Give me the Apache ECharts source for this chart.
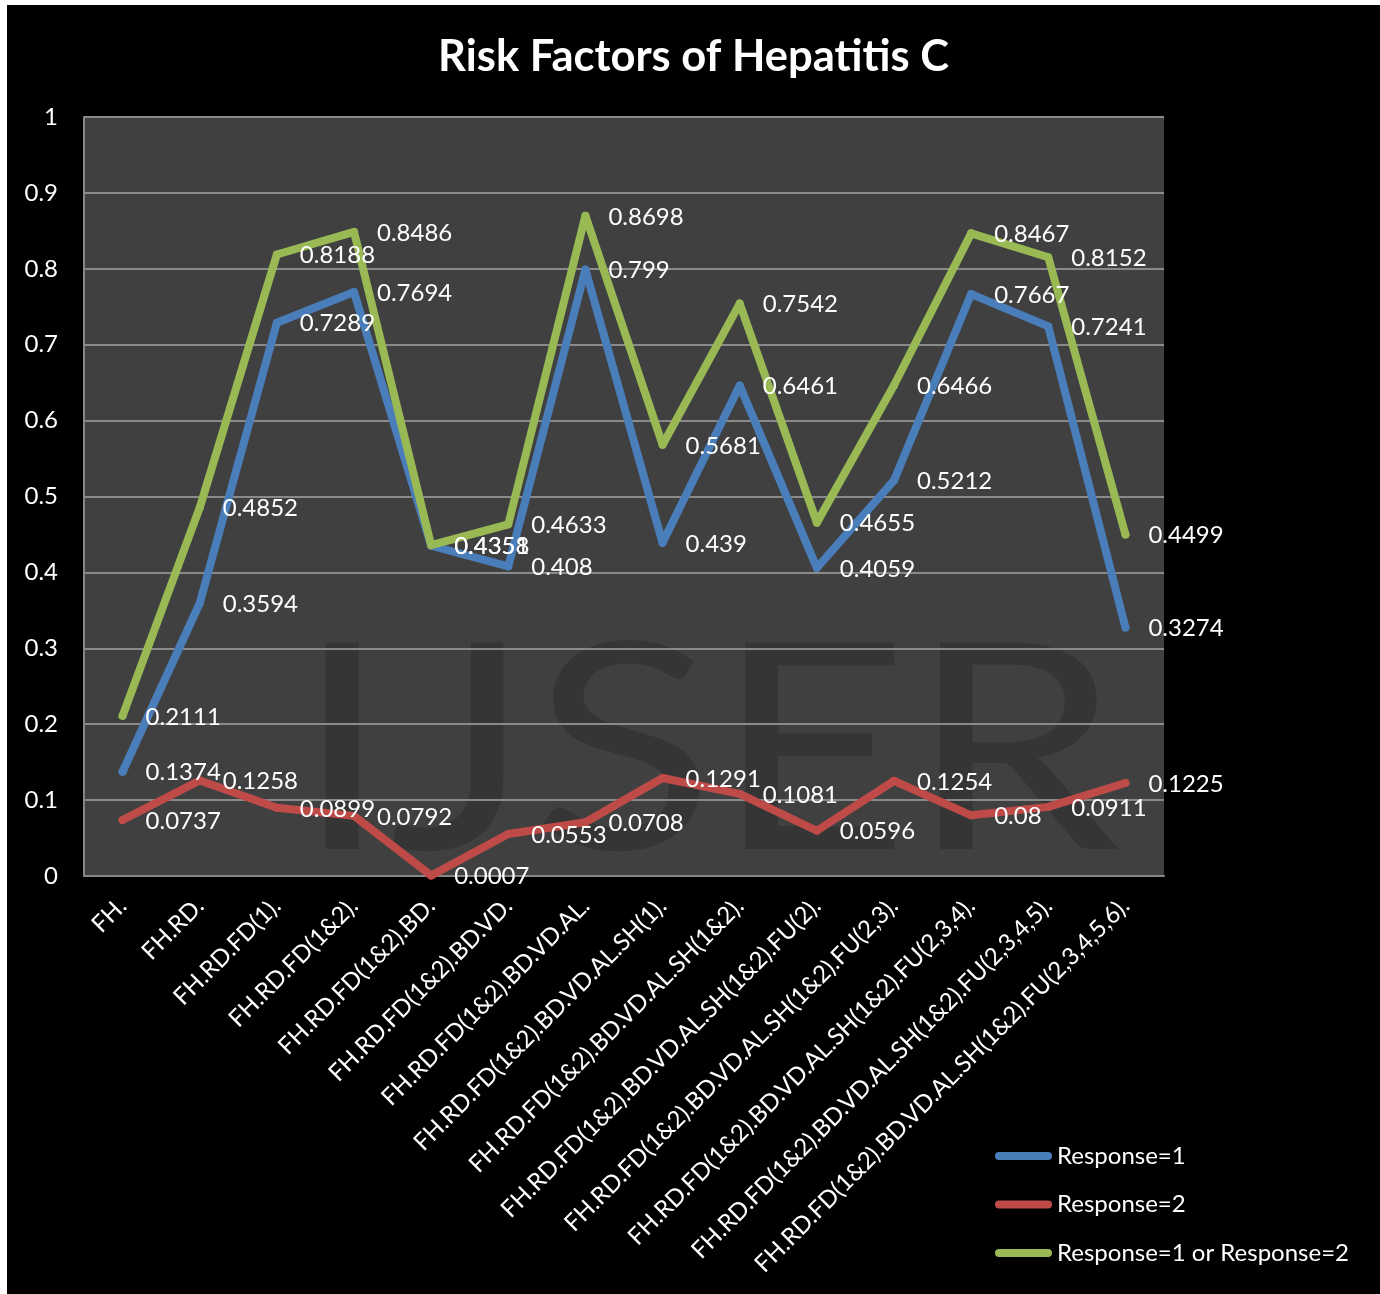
<!DOCTYPE html>
<html>
<head>
<meta charset="utf-8">
<title>Risk Factors of Hepatitis C</title>
<script src="https://cdn.jsdelivr.net/npm/echarts@6/dist/echarts.min.js"></script>
<style>
  html, body { margin: 0; padding: 0; background: #ffffff; }
  #chart { position: absolute; left: 7px; top: 5px; width: 1373px; height: 1289px; background: #000000; }
</style>
</head>
<body>
<div id="chart"></div>
<script>
// Risk factor combinations along the x axis
const categories = [
  'FH.',
  'FH.RD.',
  'FH.RD.FD(1).',
  'FH.RD.FD(1&2).',
  'FH.RD.FD(1&2).BD.',
  'FH.RD.FD(1&2).BD.VD.',
  'FH.RD.FD(1&2).BD.VD.AL.',
  'FH.RD.FD(1&2).BD.VD.AL.SH(1).',
  'FH.RD.FD(1&2).BD.VD.AL.SH(1&2).',
  'FH.RD.FD(1&2).BD.VD.AL.SH(1&2).FU(2).',
  'FH.RD.FD(1&2).BD.VD.AL.SH(1&2).FU(2,3).',
  'FH.RD.FD(1&2).BD.VD.AL.SH(1&2).FU(2,3,4).',
  'FH.RD.FD(1&2).BD.VD.AL.SH(1&2).FU(2,3,4,5).',
  'FH.RD.FD(1&2).BD.VD.AL.SH(1&2).FU(2,3,4,5,6).'
];

// Proportions per response group
const response1 = [0.1374, 0.3594, 0.7289, 0.7694, 0.4351, 0.408, 0.799, 0.439, 0.6461, 0.4059, 0.5212, 0.7667, 0.7241, 0.3274];
const response2 = [0.0737, 0.1258, 0.0899, 0.0792, 0.0007, 0.0553, 0.0708, 0.1291, 0.1081, 0.0596, 0.1254, 0.08, 0.0911, 0.1225];
const response1or2 = [0.2111, 0.4852, 0.8188, 0.8486, 0.4358, 0.4633, 0.8698, 0.5681, 0.7542, 0.4655, 0.6466, 0.8467, 0.8152, 0.4499];

const seriesNames = ['Response=1', 'Response=2', 'Response=1 or Response=2'];
const seriesColors = ['#4a7ebb', '#be4b48', '#98b954'];

const FONT = 'Lato';

const chart = echarts.init(document.getElementById('chart'), null, { renderer: 'canvas' });

function lineSeries(name, data, color) {
  return {
    name: name,
    type: 'line',
    data: data,
    symbol: 'circle',
    symbolSize: 8,
    showSymbol: true,
    itemStyle: { color: color },
    lineStyle: { color: color, width: 8, cap: 'round', join: 'round' },
    label: {
      show: true,
      position: 'right',
      distance: 19,
      offset: [0, 1],
      color: '#ffffff',
      fontFamily: FONT,
      fontSize: 24
    },
    emphasis: { disabled: true },
    clip: false
  };
}

chart.setOption({
  animation: false,
  backgroundColor: '#000000',
  title: {
    text: 'Risk Factors of Hepatitis C',
    left: 'center',
    top: 25,
    textStyle: { color: '#ffffff', fontFamily: FONT, fontWeight: 'bold', fontSize: 43.5 }
  },
  grid: {
    left: 77, top: 112, right: 216, bottom: 418,
    show: true, backgroundColor: '#404040', borderWidth: 0, z: -1
  },
  graphic: [{
    type: 'text',
    left: 288,
    top: 607,
    z: 0,
    silent: true,
    scaleX: 1.17,
    style: {
      text: 'IJSER',
      fill: '#353535',
      font: '288px Lato'
    }
  }],
  legend: {
    orient: 'vertical',
    left: 983,
    top: 1132,
    itemWidth: 57,
    itemHeight: 8,
    itemGap: 20.5,
    icon: 'path://M4,0 H53 A4,4 0 0 1 53,8 H4 A4,4 0 0 1 4,0 Z',
    textStyle: { color: '#ffffff', fontFamily: FONT, fontSize: 24, lineHeight: 28 },
    data: seriesNames
  },
  xAxis: {
    type: 'category',
    data: categories,
    boundaryGap: true,
    z: 1,
    axisLine: { show: true, lineStyle: { color: '#868686', width: 2 } },
    axisTick: { show: false },
    axisLabel: { interval: 0, rotate: 45, margin: 26, color: '#ffffff', fontFamily: FONT, fontSize: 24 },
    splitLine: { show: false }
  },
  yAxis: {
    type: 'value',
    min: 0, max: 1, interval: 0.1,
    z: 1,
    axisLine: { show: true, lineStyle: { color: '#868686', width: 2 } },
    axisTick: { show: false },
    axisLabel: { margin: 26, color: '#ffffff', fontFamily: FONT, fontSize: 24 },
    splitLine: { show: true, lineStyle: { color: '#8a8a8a', width: 2 } }
  },
  series: [
    lineSeries(seriesNames[0], response1, seriesColors[0]),
    lineSeries(seriesNames[1], response2, seriesColors[1]),
    lineSeries(seriesNames[2], response1or2, seriesColors[2])
  ]
});
</script>
</body>
</html>
